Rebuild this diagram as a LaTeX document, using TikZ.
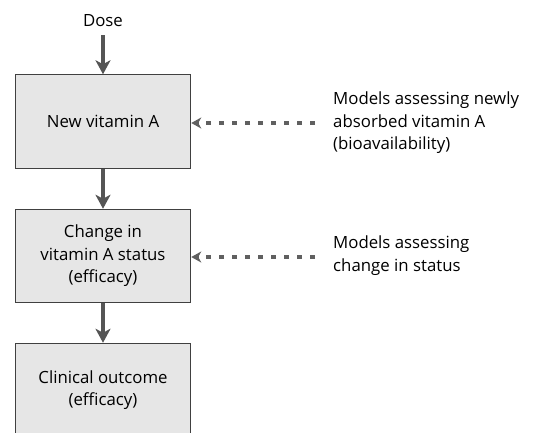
\documentclass[tikz,border=0pt]{standalone}
\usepackage{fontspec}
\setmainfont{Open Sans}
\usetikzlibrary{arrows.meta}
\definecolor{boxfill}{HTML}{E6E6E6}
\definecolor{boxline}{HTML}{404040}
\definecolor{flowgray}{HTML}{555555}
\definecolor{dashgray}{HTML}{606060}
\tikzset{
  txt/.style={font=\fontsize{16.8}{22.5}\selectfont},
  stage/.style={txt, draw=boxline, line width=1pt, fill=boxfill, minimum width=175.5pt,
    minimum height=93.5pt, align=center, inner sep=0pt},
  flow/.style={draw=flowgray, line width=3.2pt,
    -{Stealth[length=14pt, width=15pt, inset=4pt]}},
  model/.style={draw=dashgray, line width=3.6pt, dash pattern=on 5.5pt off 7.5pt,
    -{Stealth[length=10pt, width=11pt, inset=3pt, sep=0pt]}},
  note/.style={txt, align=left, anchor=west, inner sep=0pt},
}
\begin{document}
\begin{tikzpicture}[x=1pt, y=-1pt]
  \useasboundingbox (0,0) rectangle (534,432);
  \clip (0,0) rectangle (534,432);
  \node[txt] (dose) at (103,21) {Dose};
  \node[stage] (newA) at (103,121.5) {New vitamin A};
  \node[stage] (status) at (103,256) {Change in\\vitamin A status\\(efficacy)};
  \node[stage] (clin) at (103,390) {Clinical outcome\\(efficacy)};
  \coordinate (dosetail) at (103,35);
  \draw[flow] (dosetail) -- (newA.north);
  \draw[flow] (newA.south) -- (status.north);
  \draw[flow] (status.south) -- (clin.north);
  \node[note] (bio) at (333,123) {Models assessing newly\\absorbed vitamin A\\(bioavailability)};
  \node[note] (chg) at (333,255.5) {Models assessing\\change in status};
  \coordinate (bioend) at (315,123);
  \coordinate (chgend) at (315,257);
  \draw[model] (bioend) -- (newA.east |- bioend);
  \draw[model] (chgend) -- (status.east |- chgend);
\end{tikzpicture}
\end{document}
